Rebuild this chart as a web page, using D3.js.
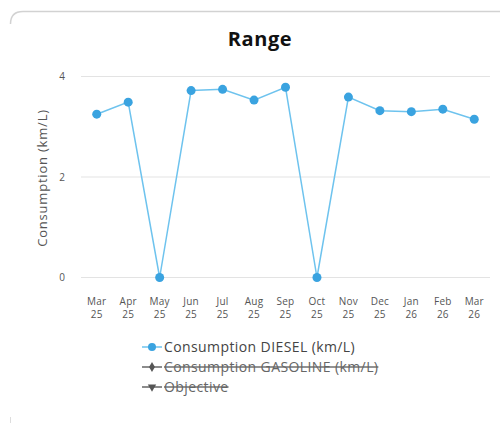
<!DOCTYPE html>
<html>
<head>
<meta charset="utf-8">
<script src="https://cdn.jsdelivr.net/npm/d3@7.9.0/dist/d3.min.js"></script>
<style>
  html, body { margin: 0; padding: 0; background: #fff; }
  svg { display: block; font-family: "Open Sans", "DejaVu Sans", sans-serif; }
</style>
</head>
<body>
<svg id="chart" width="500" height="423"></svg>
<script>
const months = ['Mar', 'Apr', 'May', 'Jun', 'Jul', 'Aug', 'Sep', 'Oct', 'Nov', 'Dec', 'Jan', 'Feb', 'Mar'];
const years = ['25', '25', '25', '25', '25', '25', '25', '25', '25', '25', '26', '26', '26'];
const diesel = [3.25, 3.49, 0, 3.72, 3.745, 3.53, 3.785, 0, 3.59, 3.32, 3.30, 3.35, 3.15];
const yTicks = [0, 2, 4];
const legendItems = [
  { label: 'Consumption DIESEL (km/L)', symbol: d3.symbolCircle, color: '#3aa3e0', hidden: false },
  { label: 'Consumption GASOLINE (km/L)', symbol: d3.symbolDiamond, color: '#555', hidden: true },
  { label: 'Objective', symbol: d3.symbolTriangle, color: '#555', hidden: true }
];

const svg = d3.select('#chart');

// card outline
svg.append('path')
  .attr('d', 'M10.5,24 Q10.5,11.5 23,11.5 L500,11.5')
  .attr('fill', 'none')
  .attr('stroke', '#d2d2d2')
  .attr('stroke-width', 1.5);
svg.append('line')
  .attr('x1', 10.5).attr('x2', 10.5).attr('y1', 417).attr('y2', 423)
  .attr('stroke', '#ddd');

svg.append('text')
  .attr('x', 260).attr('y', 46)
  .attr('text-anchor', 'middle')
  .attr('font-size', 20)
  .attr('font-weight', 'bold')
  .attr('letter-spacing', 0.6)
  .attr('fill', '#111')
  .text('Range');

const idx = d3.range(months.length);
const x = d3.scaleBand().domain(idx).range([81, 490]);
const y = d3.scaleLinear().domain([0, 4]).range([277.5, 76.5]);
const cx = (i) => x(i) + x.bandwidth() / 2;

// grid
svg.append('g')
  .selectAll('line')
  .data(yTicks)
  .join('line')
  .attr('x1', 81).attr('x2', 490)
  .attr('y1', (d) => y(d)).attr('y2', (d) => y(d))
  .attr('stroke', '#e3e3e3')
  .attr('stroke-width', 1);

svg.append('g')
  .selectAll('text')
  .data(yTicks)
  .join('text')
  .attr('x', 62)
  .attr('y', (d) => y(d) + 3.5)
  .attr('text-anchor', 'middle')
  .attr('font-size', 10)
  .attr('fill', '#555')
  .text((d) => d);

svg.append('text')
  .attr('transform', 'translate(47,178) rotate(-90)')
  .attr('text-anchor', 'middle')
  .attr('font-size', 13)
  .attr('letter-spacing', 0.8)
  .attr('fill', '#555')
  .text('Consumption (km/L)');

// x labels
const xl = svg.append('g')
  .selectAll('text')
  .data(idx)
  .join('text')
  .attr('text-anchor', 'middle')
  .attr('font-size', 10)
  .attr('letter-spacing', 0.2)
  .attr('fill', '#555')
  .attr('x', (i) => cx(i));
xl.append('tspan').attr('y', 305).text((i) => months[i]);
xl.append('tspan').attr('y', 318).attr('x', (i) => cx(i)).text((i) => years[i]);

svg.append('path')
  .datum(idx)
  .attr('fill', 'none')
  .attr('stroke', '#6ec3ee')
  .attr('stroke-width', 1.5)
  .attr('d', d3.line().x((i) => cx(i)).y((i) => y(diesel[i])));

svg.append('g')
  .selectAll('circle')
  .data(idx)
  .join('circle')
  .attr('cx', (i) => cx(i))
  .attr('cy', (i) => y(diesel[i]))
  .attr('r', 4.5)
  .attr('fill', '#3aa3e0');

// legend
const lg = svg.append('g')
  .selectAll('g')
  .data(legendItems)
  .join('g')
  .attr('transform', (d, i) => `translate(142,${347 + i * 20})`);

lg.append('line')
  .attr('x1', 0).attr('x2', 20)
  .attr('stroke', (d) => d.hidden ? '#666' : '#6ec3ee')
  .attr('stroke-width', 1.5);

lg.append('path')
  .attr('transform', (d) => d.symbol === d3.symbolTriangle ? 'translate(10,0) rotate(180)' : 'translate(10,0)')
  .attr('d', (d) => d3.symbol().type(d.symbol).size(d.hidden ? 30 : 50)())
  .attr('fill', (d) => d.color);

lg.append('text')
  .attr('x', 22).attr('y', 5)
  .attr('font-size', 14)
  .attr('letter-spacing', 0.4)
  .attr('fill', (d) => d.hidden ? '#666' : '#444')
  .attr('text-decoration', (d) => d.hidden ? 'line-through' : null)
  .text((d) => d.label);
</script>
</body>
</html>
